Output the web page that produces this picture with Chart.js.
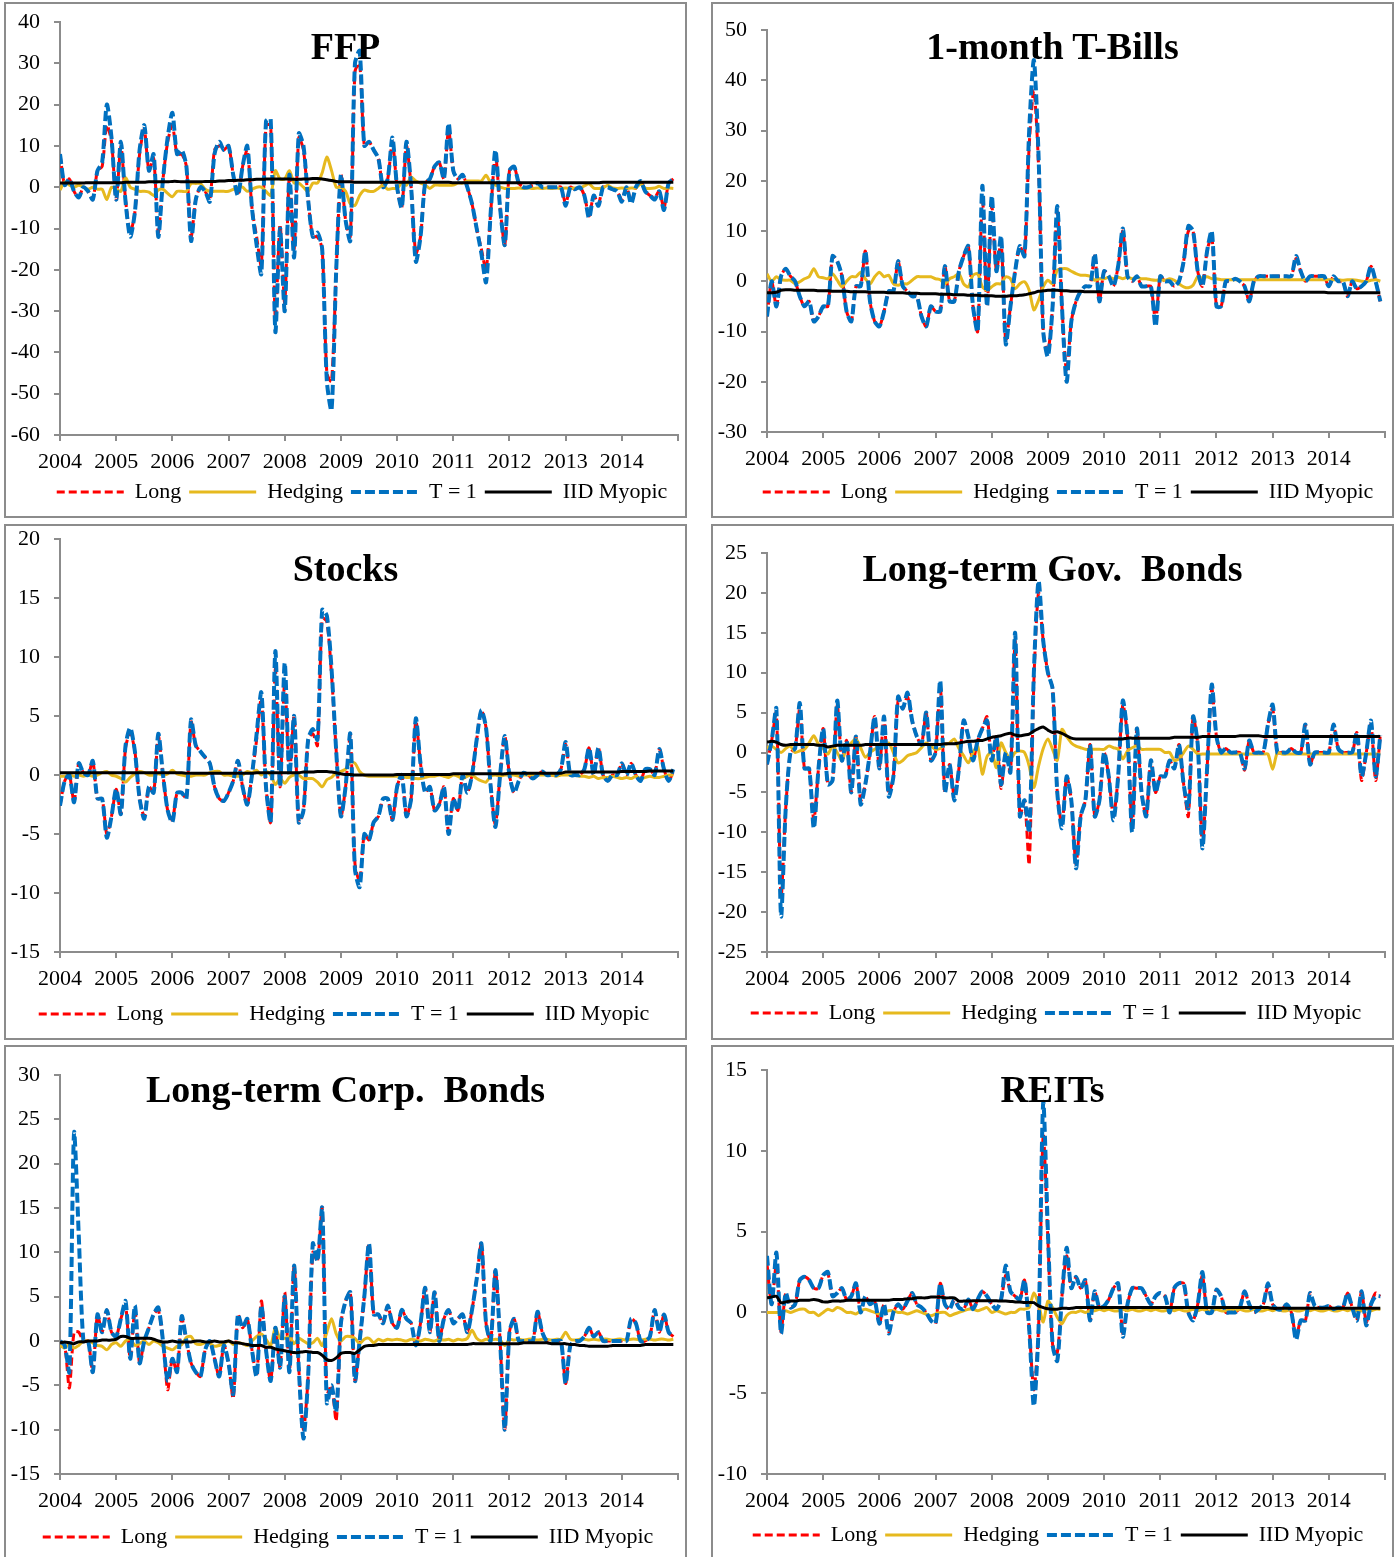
<!DOCTYPE html>
<html><head><meta charset="utf-8">
<script src="https://cdn.jsdelivr.net/npm/chart.js@4.4.1/dist/chart.umd.min.js"></script>
<style>
html,body{margin:0;padding:0;width:1400px;height:1557px;overflow:hidden;background:#fff;}
.panel{position:absolute;box-sizing:border-box;width:683px;height:516px;border:2px solid #8c8c8c;}
canvas{position:absolute;}
.title{position:absolute;font-family:"Liberation Serif",serif;font-weight:bold;font-size:38px;line-height:38px;white-space:pre;transform:translateX(-50%);color:#000;}
</style></head>
<body>
<script>
// ---------- data (monthly, Jan 2004 .. Dec 2014) ----------
const START_YEAR = 2004;
const YEAR_TICKS = [2004,2005,2006,2007,2008,2009,2010,2011,2012,2013,2014];
const SERIES_NAMES = ['Long','Hedging','T = 1','IID Myopic'];
const TITLES = ['FFP','1-month T-Bills','Stocks','Long-term Gov.  Bonds','Long-term Corp.  Bonds','REITs'];

const ffpLong = [
 8,0.5,2,-1,-2.5,0,-1,-3,4,5,15,11,
 -3,10,-3,-11,-6,8,14,4,7,-11,2,11,
 15,8,8,5,-12,-3,0,-1,-3,9,10,9,
 10,3,-2,5,9,-5,-12,-19,15,15,-32,-9,
 -28,3,-15,12,9,-3,-12,-12,-15,-45,-47,-20,
 3,-8,-12,28,30,10,11,9,7,0,2,11,
 0,-5,10,0,-16,-12,1,2,5,6,2,14,
 4,2,3,0,-4,-10,-15,-20,-6,8,-5,-14,
 4,5,1,0,0,0.5,1,0,0,0,0,0,
 -4,0,-0.5,0,-2,-7,-2,-4,0,0,-0.5,-1,
 -3,0,-3.5,0,1.5,-1,-2,-2.5,-1,-5,1,2];
const ffpHedg = [
 -0.7,1.3,0.5,0,0.5,0,-0.5,0,-0.5,-0.5,-3,0,
 -0.5,-1,2.3,0,-0.5,-1,-1,-1.2,-2,-0.7,-0.5,-1.5,
 -2.3,-1,-1,-1,0.9,0.9,0.9,-0.5,-1,-1,-1,-1,
 -1,-0.5,0,0,-1,-0.5,0,0,-1,-2,4,2,
 2,4,1,1,0,-1,1,1,3.5,7.3,4,0,
 0,-1,-4,-4.4,-2,-0.7,-1,-1,-0.3,0.5,-0.5,-0.3,
 -0.3,1,0.5,2.5,1.5,1,0.5,-0.3,0.5,0.5,0.5,0.5,
 0.5,1,1,1.5,1.5,1.5,1.5,2.9,1,0.5,0,-0.3,
 -0.3,-0.3,-0.2,-0.3,-0.2,-0.3,-0.2,-0.3,-0.2,-0.3,-0.2,-0.3,
 -0.2,-0.3,-0.2,-0.2,0.3,0.8,-0.2,-0.3,-0.2,0.5,-0.2,-0.3,
 -0.2,-0.3,-0.2,-0.2,0.8,-0.2,-0.3,-0.2,0.2,-0.3,-0.2,-0.3];
const ffpT1 = [
 8,0.5,2,-1,-2.5,0,-1,-3,4,6,20,12,
 -3,11,-3.5,-12,-6,9,15,4,8,-12,2,12,
 18,8,9,5,-13,-3,0,-1,-3.5,8,11,9,
 10,3,-2,5,10,-5,-14,-21,16,16.5,-35,-10,
 -30,3,-17,13,10,-3,-12,-11,-15,-47,-54,-20,
 3,-8,-13,30,33,10,11,9,7,0,2,12,
 0,-5,11,0,-18,-12,1,2,5,6,2,15.5,
 4,2,3,0,-4,-10,-16,-23,-6,9,-5,-14,
 4,5,1,0,0,0.5,1,0,0,0,0,0,
 -4.5,0,-0.5,0,-2,-7.5,-2,-4.5,0,0,-0.5,-1,
 -3.5,0,-4,0,1.5,-1,-2,-3,-1,-5.5,1,2];
const ffpIID = [
 1.0,1.0,1.0,1.0,1.0,1.0,1.1,1.1,1.1,1.1,1.1,1.1,
 1.1,1.1,1.2,1.2,1.2,1.2,1.2,1.3,1.3,1.3,1.3,1.3,
 1.4,1.4,1.3,1.3,1.3,1.3,1.3,1.4,1.4,1.4,1.5,1.5,
 1.6,1.6,1.7,1.7,1.8,1.8,1.9,1.9,2.0,2.0,2.0,2.0,
 2.0,2.0,1.9,1.9,2.0,2.0,2.1,2.1,2.0,1.8,1.6,1.4,
 1.3,1.3,1.3,1.2,1.2,1.2,1.2,1.2,1.2,1.2,1.2,1.2,
 1.2,1.2,1.2,1.2,1.2,1.2,1.2,1.2,1.2,1.2,1.2,1.2,
 1.1,1.1,1.1,1.1,1.1,1.1,1.1,1.1,1.1,1.1,1.1,1.1,
 1.1,1.1,1.1,1.1,1.1,1.1,1.1,1.1,1.1,1.1,1.1,1.1,
 1.1,1.1,1.1,1.1,1.1,1.1,1.1,1.1,1.2,1.2,1.2,1.2,
 1.2,1.2,1.2,1.2,1.2,1.2,1.2,1.2,1.2,1.2,1.2,1.2];

const tbLong = [
 -7,0,-5,1,2.5,1,0,-3,-5,-4,-8,-7,
 -5,-5,5,4,1,-6,-8,-1,-1,6,-4,-8,
 -9,-6,-2,-2,4,-1,-2,-3,-3,-7,-9,-5,
 -6,-6,3,-4,-4,2,5,7,-5,-10,17,-5,
 15,2,8,-12,-5,2,7,5,27,38,23,-10,
 -14,-5,14,-5,-18,-8,-4,-2,-1,-1,5,-4,
 2,1,-1,3,10,1,0,1,-1,-1,-1,-8,
 1,0,0,-1,0,4,10,10,2,-1,6,9,
 -5,-5,0,0,0.5,0,-1,-4,0,1,1,1,
 1,1,1,1,1,4.5,2,0,1,1,1,1,
 -1,1,0,0,-3,0,-1.5,-1,0,3,0,-4];
const tbHedg = [
 1.5,0,0.9,0.3,0.2,0.2,-0.5,-0.1,0.5,0.9,2.5,0.9,
 0.7,0.5,1.5,0.2,-1.1,0,0.9,0.9,1.8,0.5,-0.5,0.9,
 1.8,0.9,1.2,-0.5,-0.8,-0.5,-0.5,0.2,0.9,0.9,0.9,0.9,
 0.5,0.3,-0.5,0.5,0.9,1.5,-0.5,-1.1,1.2,1.5,-1.1,-1.8,
 -1.1,-0.5,-0.5,0.9,0.5,-1.5,-0.5,-0.1,-1.8,-5.7,-3.8,-1.1,
 0.2,-0.5,2.2,2.5,2.5,2,1.5,1.2,1.2,1,0.2,0.5,
 0.5,0.8,0.5,0.8,0.5,0.8,0.5,0.8,0.5,0.5,0.3,0.2,
 0.3,0.2,0.5,0.2,-0.5,-1.1,-1.3,-0.8,0.9,0.6,0.9,0.5,
 0.5,0.3,0.3,0.3,0.3,0.3,0.3,0.3,0.3,0.3,0.3,0.3,
 0.3,0.3,0.3,0.3,0.3,0.3,0.3,0.3,0.3,0.3,0.3,0.3,
 0.3,0.3,0.3,0.2,0.3,0.3,0.2,0,-0.1,0.2,0.3,0];
const tbT1 = [
 -7,0,-5,1,2.5,1,0,-3,-5,-4,-8,-7,
 -5,-5,5,4,1,-6,-8,-1,-1,6,-4,-8,
 -9,-6,-2,-2,4,-1,-2,-3,-3,-7,-9,-5,
 -6,-6,3,-4,-4,2,5,7,-5,-10,19,-5,
 17,2,9,-12.5,-5,2,7,5,30,44,25,-10,
 -15,-5,15,-5,-20,-8,-4,-2,-1,-1,5.5,-4,
 2,1,-1,3,10.5,1,0,1,-1,-1,-1,-9,
 1,0,0,-1,0,4,11,10,2,-1,6,10,
 -5,-5,0,0,0.5,0,-1,-4,0,1,1,1,
 1,1,1,1,1,5,2,0,1,1,1,1,
 -1,1,0,0,-3,0,-1.5,-1,0,3,0,-4];
const tbIID = [
 -2.3,-2.3,-2.2,-1.8,-1.7,-1.7,-1.8,-1.8,-1.8,-1.8,-1.8,-1.9,
 -1.9,-1.9,-2.0,-2.0,-2.0,-2.0,-2.1,-2.1,-2.1,-2.1,-2.2,-2.2,
 -2.2,-2.2,-2.3,-2.3,-2.3,-2.3,-2.4,-2.4,-2.4,-2.5,-2.5,-2.5,
 -2.5,-2.6,-2.6,-2.6,-2.7,-2.7,-2.7,-2.8,-2.8,-2.8,-2.9,-2.9,
 -2.9,-3.0,-3.0,-3.0,-2.9,-2.9,-2.8,-2.7,-2.5,-2.3,-2.0,-1.9,
 -1.8,-1.8,-1.8,-1.9,-1.9,-2.0,-2.0,-2.0,-2.1,-2.1,-2.1,-2.1,
 -2.2,-2.2,-2.2,-2.2,-2.2,-2.2,-2.2,-2.2,-2.2,-2.2,-2.2,-2.2,
 -2.2,-2.2,-2.2,-2.2,-2.2,-2.2,-2.2,-2.2,-2.2,-2.2,-2.2,-2.2,
 -2.2,-2.2,-2.2,-2.2,-2.2,-2.2,-2.2,-2.2,-2.2,-2.2,-2.2,-2.2,
 -2.2,-2.2,-2.2,-2.2,-2.2,-2.2,-2.2,-2.2,-2.2,-2.2,-2.2,-2.2,
 -2.3,-2.3,-2.3,-2.3,-2.3,-2.3,-2.3,-2.3,-2.3,-2.3,-2.3,-2.3];

const stLong = [
 -2.6,-0.5,0,-2.3,1,0.2,0,1.2,-2,-2,-5,-3.5,
 -1.2,-3.3,2.3,3.6,2,-2,-3.5,-1,-1.5,3.3,0,-3,
 -3.8,-1.5,-1.5,-2,4.5,2.5,2,1.5,1,-1,-2,-2.2,
 -1.5,-0.5,1.2,-1,-2.5,0,3,6.5,-1,-4,9,-1,
 8,0,5,-4,-3,3,3.5,2.5,13.3,13,8.5,2,
 -3.5,-1,3.3,-7.5,-9,-5,-5.5,-4,-3.5,-2,-2,-3.8,
 -1,0,-3.5,-2,4.6,1,-1.5,-1,-3,-2.5,-1,-4.8,
 -2,-3,0,-1.5,0,3,5.5,4,-1,-4.2,0,3.3,
 0,-1.5,-0.5,0.2,0,-0.3,0,0.3,0,0,0,0.5,
 2.6,0,0,0,0.5,2.3,0,2.3,0,-0.5,0,0,
 1,0,1,0,-0.5,0.5,0.5,0,2.2,0.5,-0.5,0.3];
const stHedg = [
 -0.1,-0.1,0,-0.1,0,-0.1,0,-0.1,0,0.2,0.3,0,
 -0.1,-0.3,-0.6,-0.2,0.1,0.3,0.2,0,0,0.1,0,0.1,
 0.4,0.1,0,-0.1,-0.1,0,0,0,0.2,0.3,0.3,0,
 0,-0.1,-0.1,0,0.3,0.2,0.4,0,0.3,0,-0.8,-0.3,
 -0.7,-0.2,0,0,-0.3,-0.3,-0.3,-0.6,-1,-0.4,-0.2,0.2,
 0.3,0.5,1.1,1,0.3,0,-0.1,-0.1,-0.1,-0.1,-0.1,-0.1,
 -0.1,-0.1,-0.2,-0.2,-0.3,-0.3,-0.2,-0.1,-0.1,0,-0.1,-0.2,
 0,-0.1,-0.3,-0.1,0,-0.3,-0.5,-0.6,-0.1,0,-0.1,0,
 0,0,-0.1,0,0,0,0,0,0,0,-0.1,0,
 0,0,0,-0.1,-0.1,-0.2,-0.1,-0.3,-0.2,-0.2,-0.1,-0.2,
 -0.3,-0.2,-0.3,-0.1,-0.3,-0.2,-0.1,-0.2,-0.2,-0.1,0,0];
const stT1 = [
 -2.6,-0.5,0,-2.3,1,0.2,0,1.2,-2,-2,-5.3,-3.5,
 -1.2,-3.3,2.5,4,2,-2,-3.7,-1,-1.5,3.5,0,-3,
 -4,-1.5,-1.5,-2,4.7,2.5,2,1.5,1,-1,-2,-2.2,
 -1.5,-0.5,1.2,-1,-2.5,0,3.5,7,-1,-4,10.5,-1,
 9.5,0,5,-4,-3,3,3.9,3,14,13.5,9,2,
 -3.5,-1,3.5,-8,-9.5,-5,-5.5,-4,-3.5,-2,-2,-3.8,
 -1,0,-3.5,-2,4.8,1,-1.5,-1,-3,-2.5,-1,-5,
 -2,-3,0,-1.5,0,3,5.5,4,-1,-4.4,0,3.3,
 0,-1.5,-0.5,0.2,0,-0.3,0,0.3,0,0,0,0.5,
 2.8,0,0,0,0.5,2.3,0,2.3,0,-0.5,0,0,
 1,0,1,0,-0.5,0.5,0.5,0,2.2,0.5,-0.5,0.5];
const stIID = [
 0.2,0.2,0.2,0.2,0.2,0.2,0.2,0.2,0.2,0.2,0.2,0.2,
 0.2,0.2,0.2,0.2,0.2,0.2,0.2,0.2,0.2,0.2,0.2,0.2,
 0.2,0.2,0.2,0.15,0.15,0.15,0.15,0.15,0.15,0.15,0.15,0.15,
 0.15,0.15,0.15,0.15,0.15,0.15,0.2,0.2,0.2,0.2,0.2,0.2,
 0.2,0.2,0.2,0.2,0.25,0.25,0.25,0.3,0.3,0.3,0.25,0.2,
 0.1,0.05,0.05,0,0,0,0,0,0,0,0,0,
 0.05,0.05,0.05,0.05,0.05,0.05,0.05,0.05,0.05,0.05,0.05,0.05,
 0.1,0.1,0.1,0.1,0.1,0.1,0.1,0.1,0.1,0.1,0.1,0.1,
 0.15,0.15,0.15,0.15,0.15,0.15,0.15,0.15,0.15,0.15,0.15,0.15,
 0.25,0.25,0.25,0.25,0.25,0.25,0.25,0.25,0.25,0.25,0.25,0.25,
 0.3,0.3,0.3,0.3,0.3,0.3,0.35,0.35,0.35,0.35,0.35,0.35];

const govLong = [
 -1.5,1.5,5,-18,-7,0,0.5,5.5,-2,-2,-8.5,-2,
 3,-4,-3.5,6,-1,1.5,-5,2,-6,-4,0,4.5,
 -2,4.5,-5,-3,6.5,5.5,7,4,2,1,5,-1,
 0,8.5,-5,-1.5,-5.5,-2,4,2,-1,1.5,3,4.5,
 -1,2,-4.5,0,-2.5,14,-8,-6,-14,9,20,14,
 10,8,-5,-9,-3,-6,-14,-8,-6,1,-8,-6,
 0,-3,-8,-3,6,2,-9.5,3,-5,-8,-1,-5,
 -3,-3,-1,-2,1,-4,-8,4.5,1,-11.5,-2,8,
 2,0,0.5,0,0,0,-2.2,1.5,0,0,0,3.5,
 5.5,0,0,0,0.5,0,0,3.5,-1.5,0,0,0,
 0,3.5,0.5,0,0,0,2.5,-3.5,0,3.5,-3.5,2.2];
const govHedg = [
 0.6,0.8,0.4,0,0.5,0.8,0,0.2,0.4,1.2,2.1,1,
 0.5,-0.2,0.8,0,-1,0.6,1.2,1.7,0.6,-0.6,0,0.4,
 0.8,1,1.2,0,-1.3,-1,-0.4,-0.2,0,0.6,1.2,0.8,
 0.4,0.5,1,1.2,1.7,0.5,-0.4,-1.3,0,0.8,-2.7,-0.5,
 0,-1.9,1.2,0,-0.8,0,0.2,0,-1.7,-4.4,-1.7,0.5,
 1.7,0.4,-1,2.9,2,1.2,0.8,0.6,0.4,0.4,0.4,0.4,
 0.4,0.8,0.6,0.4,-0.8,0.2,0.6,0.8,0.4,0.4,0.4,0.4,
 0.4,0,0,-1,-0.8,0,0.8,0.4,-0.2,-0.2,-0.2,-0.2,
 -0.2,-0.2,-0.2,-0.2,-0.2,-0.2,-0.2,-0.2,-0.2,-0.2,-0.2,-0.2,
 -2.1,0,-0.2,-0.2,-0.2,-0.2,-0.2,-0.2,-0.2,-0.2,-0.2,-0.2,
 -0.2,-0.2,-0.2,-0.2,-0.2,-0.2,-0.2,-0.2,-0.2,-0.2,-0.2,-0.2];
const govT1 = [
 -1.5,1.5,5.5,-20.5,-7,0,0.5,6.2,-2,-2,-9.5,-2,
 3,-4,-3.5,6.5,-1,1.5,-5,2,-6.5,-4,0,4.5,
 -2,4.5,-5.5,-3,7,5.5,7.5,4,2,1,5,-1,
 0,9,-5,-1.5,-6,-2,4,2,-1,1.5,3,4,
 -1,2,-4,0,-2.5,15,-8,-6,-10,10,21.5,14,
 10,8,-5,-9.5,-3,-6,-14.5,-8,-6,1,-8,-6,
 0,-3,-8.5,-3,6.5,2,-10,3,-5,-8,-1,-5,
 -3,-3,-1,-2,1,-4,-7,4.5,1,-12,-2,8.5,
 2,0,0.5,0,0,0,-2,1.5,0,0,0,3.5,
 6,0,0,0,0.5,0,0,3.5,-1.5,0,0,0,
 0,3.5,0.5,0,0,0,2.5,-3,0,4,-3,2.2];
const govIID = [
 1.3,1.4,1.3,1.0,0.9,1.0,1.0,1.0,1.0,1.0,1.0,0.9,
 0.9,0.7,0.8,0.9,0.9,0.9,0.9,0.9,0.9,1.0,1.0,1.0,
 1.0,1.0,1.0,1.0,1.0,1.0,1.0,1.0,1.0,1.0,1.0,1.0,
 1.0,1.0,1.1,1.1,1.1,1.2,1.3,1.4,1.4,1.5,1.5,1.7,
 1.9,2.0,2.1,2.3,2.4,2.2,2.1,2.2,2.3,2.7,3.0,3.2,
 2.8,2.5,2.6,2.4,2.1,1.8,1.7,1.7,1.7,1.7,1.7,1.7,
 1.7,1.7,1.7,1.7,1.7,1.8,1.8,1.8,1.8,1.8,1.8,1.8,
 1.8,1.8,1.8,1.9,1.9,1.9,1.9,1.9,1.9,2.0,2.0,2.0,
 2.0,2.0,2.0,2.0,2.0,2.1,2.1,2.1,2.1,2.1,2.0,2.0,
 2.0,2.0,2.0,2.0,2.0,2.0,2.0,2.0,2.0,2.0,2.0,2.0,
 2.0,2.0,2.0,2.0,2.0,2.0,2.0,2.0,2.0,2.0,2.0,2.0];

const corpLong = [
 0,-0.5,-5.3,1,1,0,0,-3.5,3,1,3.5,1,
 0.5,2.5,4,-2,3.5,-2.5,0,1.5,3,3.5,0,-5.5,
 -2,-3.5,2.5,0,-2.5,-3.5,-4,-1,0,-2,-4,-0.5,
 -2.5,-6.5,3,1.5,2.5,-1,-4,4.5,-1,-4.5,1.5,-3,
 5.5,-3.5,8.5,-3,-10,-4,10,9,15,-6,-5,-9,
 2,4.5,5.5,-4.5,0,5,11,3,3,2,4,2,
 1.5,3.5,2.5,2,-0.5,2,6,1,5.5,0,2.5,3.5,
 2,2.5,3,1,3.5,7,11,2,0,8,0,-10,
 1,2.5,0,0,0,0,3.3,1,0,0,0,0,
 -4.8,-0.5,0,0,0.5,1.5,0.5,1,0,0,0,0,
 0,0,2.5,2,0,0,0.5,3.5,1,3,1,0.5];
const corpHedg = [
 -0.5,-0.8,-0.3,-0.8,-0.5,0,0,-0.2,-0.5,-0.6,-1,-0.4,
 -0.2,-0.6,0,0.2,-0.5,-0.3,0,-0.4,0,-0.2,-0.6,-0.8,
 -1,-0.6,-0.4,0.4,0.5,-0.3,-0.4,-0.2,-0.3,-0.6,-0.5,-0.3,
 0,-0.4,-0.2,-0.3,-0.5,0,0.5,0.8,0.2,-0.5,1.5,0.3,
 0.3,0.5,-0.3,0.3,0,-0.3,-0.2,0.3,-0.5,1,2.5,0.8,
 0,0.5,0.5,0.3,-0.3,0.2,0.3,-0.2,0.2,0,0.2,0.1,
 0.2,0.1,0,0.2,0.1,0,0.2,0.1,0,0.2,0.1,0.2,
 0,0.2,0.1,0.3,1.2,0.3,0,0.2,0.1,0.2,0.1,-0.5,
 0.2,0.1,0.2,0.1,0.2,0.2,0.1,0.2,0.2,0.1,0.2,0.2,
 1,0.2,0.1,0.2,0.2,0.1,0.2,0.1,0.2,0.2,0.1,0.2,
 0.2,0.1,0.2,0.2,0.1,0.2,0.2,0.1,0.2,0.2,0.1,0.2];
const corpT1 = [
 0,-0.5,-3.5,23.5,12,0,0,-3.5,3,1,3.5,1,
 0.5,2.5,4.5,-2,4,-2.5,0,1.5,3,3.8,0,-4.5,
 -2,-3.5,2.8,0,-2.5,-3.5,-4,-1,0,-2,-4,-0.5,
 -2.5,-6,3,1.5,2.5,-1,-4,4,-1,-4.5,1.5,-3,
 5,-3.5,8.5,-3,-11,-4,11,9,15,-7,-5,-8,
 2,4.5,5.5,-4.5,0,5,11,3,3,2,4,2,
 1.5,3.5,2.5,2,-0.5,2,6,1,5.5,0,2.5,3.5,
 2,2.5,3,1,3.5,7,11,2,0,8,0,-10,
 1,2.5,0,0,0,0,3.3,1,0,0,0,0,
 -4.8,-0.5,0,0,0.5,1.5,0.5,1,0,0,0,0,
 0,0,2.5,2,0,0,0.5,3.5,1,3,1,0.5];
const corpIID = [
 -0.2,-0.1,-0.2,-0.3,-0.1,-0.1,0,0,0,0.1,0.1,0.1,
 0.2,0.5,0.5,0.3,0.3,0.3,0.3,0.3,0.2,0,-0.1,-0.1,
 0,-0.1,-0.1,-0.1,-0.1,0,0,-0.1,-0.1,0,-0.1,-0.1,
 0,-0.2,-0.2,-0.3,-0.4,-0.5,-0.5,-0.5,-0.7,-0.7,-0.9,-1.0,
 -1.1,-1.2,-1.3,-1.3,-1.2,-1.2,-1.3,-1.3,-1.6,-2.1,-2.2,-1.9,
 -1.4,-1.3,-1.3,-1.4,-1.0,-0.6,-0.5,-0.5,-0.4,-0.4,-0.4,-0.4,
 -0.4,-0.4,-0.4,-0.4,-0.4,-0.4,-0.4,-0.4,-0.4,-0.4,-0.4,-0.4,
 -0.4,-0.4,-0.4,-0.4,-0.3,-0.3,-0.3,-0.3,-0.3,-0.3,-0.3,-0.3,
 -0.3,-0.3,-0.3,-0.2,-0.2,-0.2,-0.2,-0.2,-0.2,-0.3,-0.3,-0.3,
 -0.3,-0.4,-0.4,-0.5,-0.5,-0.6,-0.6,-0.6,-0.6,-0.6,-0.5,-0.5,
 -0.5,-0.5,-0.5,-0.5,-0.5,-0.4,-0.4,-0.4,-0.4,-0.4,-0.4,-0.4];

const reitLong = [
 3,0.5,3,-1.2,1.2,0.3,0.5,2,2.2,2,1.5,1.5,
 2.3,2.4,1,1.2,1.5,0.8,1,1.8,0,1,0.5,0.7,
 -0.7,0.5,-1.2,0,0.5,0.2,0.7,1.2,0.5,0.3,0,-0.5,
 -0.7,1.8,0.5,0.2,0.8,0.3,0.2,0.8,0.2,0.8,1.3,1,
 0.5,0.2,0.8,2.3,1.3,1,0.8,2,-1,-4.8,-1,11,
 4.5,-2,-2.5,1,3.5,1.5,2.2,1.5,2,-0.5,1.3,0.3,
 0.4,0.8,1.5,1.8,-1.3,0.5,1.5,1.5,1.5,1,0.5,1,
 1.2,1,0,1.5,1.8,1.8,0,-0.5,0.5,2.3,0,0,
 1.4,1,0,0,0,0.3,1.3,0.5,0,0.2,0.5,1.6,
 0.5,0.2,0.2,0.5,0,-1.5,-0.5,-0.5,1.2,0.4,0.3,0.3,
 0.4,0.2,0.3,0.3,1.2,0.3,-0.5,1.3,-0.6,0.5,1.2,1];
const reitHedg = [
 0,0,0,0,0.1,0,0.1,0.2,0.2,0,0,-0.2,
 0,0.2,0.1,0.3,0.2,0,0,-0.1,0.1,0.2,0.1,0,
 -0.1,0,0.1,0.1,0,0,-0.1,0,0.1,0,-0.1,-0.2,
 -0.1,0,0,-0.2,-0.1,0,0.1,0.2,0.2,0.1,0.2,0.3,
 0,0.1,0,-0.1,0,0,0.2,0.2,0.3,1.2,0.5,-0.6,
 0.7,0.3,-0.3,-0.7,-0.2,0,0,0.1,0,0.1,0.1,0.2,
 0.1,0.2,0.1,0.1,0.2,0.1,0.2,0.1,0.1,0.2,0.1,0.2,
 0.1,0.1,0.2,0.1,0.2,0.1,0.1,0.2,0.1,0.2,0.1,0.1,
 0.2,0.1,0.1,0.2,0.1,0.2,0.1,0.1,0.2,0.1,0.1,0.2,
 0.1,0.2,0.1,0.1,0.2,0.1,0.1,0.2,0.1,0.2,0.1,0.1,
 0.2,0.1,0.1,0.2,0.1,0.2,0.1,0.1,0.2,0.1,0.2,0.2];
const reitT1 = [
 3.5,0.5,3.7,-1.3,1.2,0.3,0.5,2,2.2,2,1.5,1.5,
 2.3,2.5,1,1.2,1.5,0.8,1,1.8,0,1,0.5,0.7,
 -0.7,0.5,-1.3,0,0.5,0.2,0.7,1.2,0.5,0.3,0,-0.5,
 -0.7,1.8,0.5,0.2,0.8,0.3,0.2,0.8,0.2,0.8,1.3,1,
 0.5,0.2,0.8,2.9,1.3,1,0.8,2,-1,-5.8,-1,13,
 5,-2,-3,1,4,1.5,2.2,1.5,2,-0.5,1.3,0.3,
 0.4,0.8,1.5,1.8,-1.5,0.5,1.5,1.5,1.5,1,0.5,1,
 1.2,1,0,1.5,1.8,1.8,0,-0.5,0.5,2.5,0,0,
 1.4,1,0,0,0,0.3,1.3,0.5,0,0.2,0.5,1.8,
 0.5,0.2,0.2,0.5,0,-1.7,-0.5,-0.5,1.2,0.4,0.3,0.3,
 0.4,0.2,0.3,0.3,1.2,0.3,-0.5,1.3,-0.8,0.5,1,1];
const reitIID = [
 0.9,0.95,1.0,0.6,0.65,0.7,0.7,0.75,0.75,0.75,0.8,0.75,
 0.65,0.65,0.7,0.7,0.7,0.75,0.75,0.75,0.75,0.75,0.75,0.75,
 0.75,0.75,0.75,0.8,0.8,0.8,0.85,0.85,0.9,0.9,0.9,0.95,
 0.95,0.95,0.9,0.9,0.9,0.7,0.7,0.7,0.72,0.72,0.72,0.72,
 0.72,0.72,0.7,0.7,0.68,0.65,0.65,0.62,0.62,0.6,0.4,0.3,
 0.22,0.2,0.2,0.25,0.25,0.25,0.3,0.3,0.3,0.3,0.3,0.3,
 0.3,0.3,0.3,0.3,0.3,0.3,0.3,0.3,0.3,0.3,0.3,0.3,
 0.3,0.3,0.3,0.3,0.3,0.3,0.3,0.3,0.3,0.3,0.3,0.3,
 0.3,0.3,0.3,0.3,0.3,0.3,0.3,0.3,0.3,0.3,0.3,0.3,
 0.25,0.25,0.25,0.25,0.25,0.25,0.25,0.25,0.25,0.25,0.25,0.25,
 0.25,0.25,0.25,0.25,0.25,0.25,0.25,0.25,0.25,0.25,0.25,0.25];

const Y_RANGES = [[-60,40,10],[-30,50,10],[-15,20,5],[-25,25,5],[-15,30,5],[-10,15,5]];

// ---------- layout / style ----------
const AX = '#8c8c8c';
const FONT = {family:'"Liberation Serif", serif', size:22};
const Y_FONT = {family:'"Liberation Serif", serif', size:22, lineHeight:0.1};
const PAD_L = 4, PAD_R = 9;
const PANELS = [
 {left:4,   top:2,    caTop:20, caBot:433, legDx:19, hx:38},
 {left:711, top:2,    caTop:28, caBot:430, legDx:18, hx:41},
 {left:4,   top:524,  caTop:14, caBot:428, legDx:1,  hx:43},
 {left:711, top:524,  caTop:29, caBot:428, legDx:6,  hx:42},
 {left:4,   top:1045, caTop:30, caBot:429, legDx:5,  hx:44},
 {left:711, top:1045, caTop:25, caBot:429, legDx:8,  hx:42}
];
const W = 683, H = 516, LEG_PAD = 8;
const DATA = [
 [ffpLong, ffpHedg, ffpT1, ffpIID],
 [tbLong, tbHedg, tbT1, tbIID],
 [stLong, stHedg, stT1, stIID],
 [govLong, govHedg, govT1, govIID],
 [corpLong, corpHedg, corpT1, corpIID],
 [reitLong, reitHedg, reitT1, reitIID]
];
const LINE_STYLES = [
 {color:'#FF0000', width:3, dash:[8,4], order:4},
 {color:'#E6B91E', width:3, dash:[],    order:3},
 {color:'#0070C0', width:4, dash:[10,4], order:2},
 {color:'#000000', width:3, dash:[],    order:1}
];

// shifts the (bottom) legend horizontally to match the reference placement
const legendShift = {
  id: 'legendShift',
  afterLayout(chart, args, opts) {
    const l = chart.legend;
    if (l && opts && opts.dx) { l.left += opts.dx; l.right += opts.dx; }
  }
};

function pts(arr){ return arr.map((v,i)=>({x: START_YEAR + i/12, y: v})); }

PANELS.forEach((p, idx) => {
  const box = document.createElement('div');
  box.className = 'panel';
  box.style.left = p.left + 'px'; box.style.top = p.top + 'px';
  document.body.appendChild(box);

  const cv = document.createElement('canvas');
  cv.width = W; cv.height = H;
  cv.style.left = p.left + 'px'; cv.style.top = p.top + 'px';
  cv.style.width = W + 'px'; cv.style.height = H + 'px';
  document.body.appendChild(cv);

  const t = document.createElement('div');
  t.className = 'title';
  t.textContent = TITLES[idx];
  t.style.left = (p.left + W/2) + 'px';
  t.style.top = (p.top + 25) + 'px';
  document.body.appendChild(t);

  const [ymin, ymax, ystep] = Y_RANGES[idx];
  const padB = H - 40 - p.hx - p.caBot;
  const datasets = DATA[idx].map((arr, k) => ({
    label: SERIES_NAMES[k],
    data: pts(arr),
    borderColor: LINE_STYLES[k].color,
    backgroundColor: LINE_STYLES[k].color,
    borderWidth: LINE_STYLES[k].width,
    borderDash: LINE_STYLES[k].dash,
    order: LINE_STYLES[k].order,
    pointRadius: 0,
    tension: 0.25,
    borderJoinStyle: 'round',
    fill: false
  }));

  new Chart(cv, {
    type: 'line',
    data: {datasets},
    plugins: [legendShift],
    options: {
      responsive: false, animation: false, devicePixelRatio: 1, events: [],
      layout: {padding: {left: PAD_L, right: PAD_R, top: p.caTop, bottom: padB}},
      scales: {
        x: {
          type: 'linear', min: 2004, max: 2015,
          afterFit(s){ s.height = p.hx; },
          ticks: {stepSize: 1, autoSkip: false, maxRotation: 0, padding: 8, font: FONT, color: '#000',
                  callback: (v) => YEAR_TICKS.includes(v) ? String(v) : ''},
          grid: {display: true, drawOnChartArea: false, drawTicks: true, tickLength: 6, color: AX, lineWidth: 2},
          border: {display: true, color: AX, width: 2}
        },
        y: {
          type: 'linear', min: ymin, max: ymax,
          afterFit(s){ s.width = 56 - PAD_L; },
          ticks: {stepSize: ystep, padding: 14, font: Y_FONT, color: '#000'},
          grid: {display: true, drawOnChartArea: false, drawTicks: true, tickLength: 6, color: AX, lineWidth: 2},
          border: {display: true, color: AX, width: 2}
        }
      },
      plugins: {
        tooltip: {enabled: false},
        legendShift: {dx: p.legDx},
        legend: {
          position: 'bottom',
          labels: {
            usePointStyle: true, pointStyle: 'line', pointStyleWidth: 67,
            padding: LEG_PAD, font: FONT, color: '#000',
            generateLabels(chart){
              return chart.data.datasets.map((d, i) => ({
                text: d.label, fillStyle: d.borderColor, strokeStyle: d.borderColor,
                lineWidth: d.borderWidth, lineDash: d.borderDash, lineCap: 'butt',
                pointStyle: 'line', hidden: false, datasetIndex: i, fontColor: '#000'
              }));
            }
          }
        }
      }
    }
  });
});
</script>
</body></html>
